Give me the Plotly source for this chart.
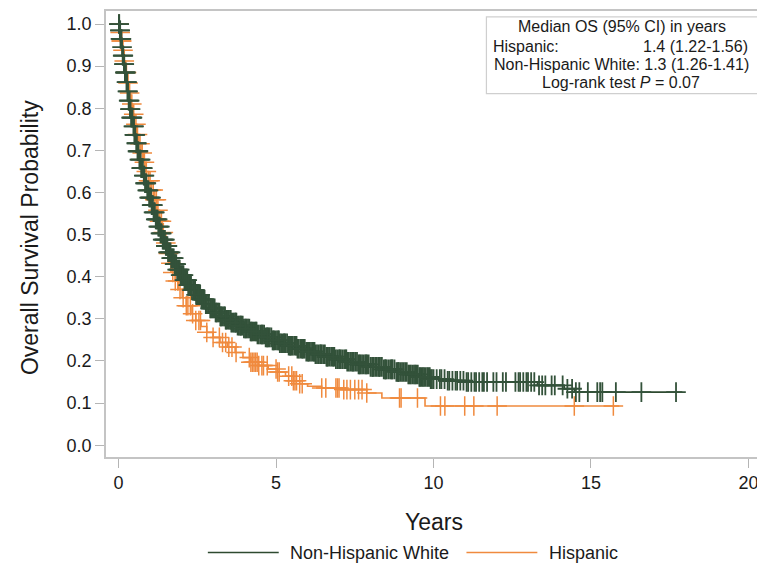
import numpy as np
import plotly.graph_objects as go

# ---------------- data ----------------
nhw_time = [0.00, 0.03, 0.06, 0.10, 0.13, 0.16, 0.20, 0.24, 0.28, 0.32, 0.36, 0.40, 0.45, 0.50,
            0.55, 0.60, 0.66, 0.72, 0.78, 0.84, 0.90, 0.97, 1.04, 1.11, 1.18, 1.25, 1.32, 1.40,
            1.48, 1.57, 1.66, 1.76, 1.86, 1.97, 2.08, 2.20, 2.33, 2.46, 2.60, 2.75, 2.90, 3.06,
            3.23, 3.40, 3.58, 3.77, 3.97, 4.18, 4.40, 4.63, 4.87, 5.12, 5.38, 5.66, 5.95, 6.25,
            6.56, 6.90, 7.25, 7.62, 8.00, 8.40, 8.80, 9.20, 9.55, 9.90, 10.40, 11.00, 13.30,
            14.15, 14.47]
nhw_surv = [1.000, 0.985, 0.965, 0.945, 0.925, 0.905, 0.885, 0.862, 0.840, 0.818, 0.798, 0.778,
            0.757, 0.737, 0.717, 0.698, 0.678, 0.658, 0.640, 0.622, 0.605, 0.588, 0.570, 0.553,
            0.536, 0.519, 0.503, 0.488, 0.473, 0.458, 0.444, 0.430, 0.417, 0.404, 0.392, 0.380,
            0.368, 0.357, 0.346, 0.335, 0.325, 0.315, 0.306, 0.298, 0.291, 0.284, 0.277, 0.270,
            0.263, 0.256, 0.249, 0.242, 0.236, 0.229, 0.222, 0.216, 0.210, 0.204, 0.198, 0.192,
            0.186, 0.180, 0.174, 0.168, 0.162, 0.157, 0.153, 0.150, 0.142, 0.134, 0.126]
nhw_end = 17.9

his_time = [0.00, 0.04, 0.08, 0.12, 0.17, 0.22, 0.27, 0.32, 0.38, 0.44, 0.50, 0.57, 0.64, 0.71,
            0.79, 0.87, 0.95, 1.03, 1.12, 1.21, 1.30, 1.38, 1.46, 1.54, 1.62, 1.70, 1.80, 1.90,
            2.02, 2.15, 2.30, 2.45, 2.62, 2.80, 3.00, 3.22, 3.45, 3.70, 3.95, 4.20, 4.45, 4.75,
            5.05, 5.30, 5.55, 5.75, 6.00, 6.45, 7.05, 7.88, 8.36, 9.73]
his_surv = [1.000, 0.980, 0.960, 0.938, 0.912, 0.885, 0.860, 0.836, 0.810, 0.786, 0.762, 0.738,
            0.716, 0.694, 0.672, 0.650, 0.628, 0.606, 0.583, 0.558, 0.532, 0.505, 0.480, 0.455,
            0.432, 0.410, 0.390, 0.370, 0.350, 0.331, 0.312, 0.296, 0.282, 0.268, 0.256, 0.244,
            0.233, 0.220, 0.208, 0.197, 0.189, 0.181, 0.174, 0.164, 0.153, 0.146, 0.140, 0.136,
            0.132, 0.124, 0.112, 0.093]
his_end = 15.9

nhw_censor = [0.02, 0.04, 0.06, 0.08, 0.11, 0.13, 0.15, 0.18, 0.20, 0.23, 0.25, 0.28, 0.30, 0.33,
              0.36, 0.38, 0.41, 0.44, 0.47, 0.50, 0.53, 0.56, 0.60, 0.63, 0.66, 0.70, 0.73, 0.77,
              0.80, 0.84, 0.88, 0.91, 0.95, 0.99, 1.03, 1.07, 1.11, 1.15, 1.20, 1.24, 1.28, 1.33,
              1.37, 1.42, 1.47, 1.52, 1.57, 1.62, 1.67, 1.72, 1.78, 1.83, 1.89, 1.94, 2.00, 2.06,
              2.12, 2.18, 2.24, 2.30, 2.37, 2.43, 2.50, 2.56, 2.63, 2.70, 2.77, 2.84, 2.91, 2.98,
              3.05, 3.12, 3.20, 3.27, 3.35, 3.42, 3.50, 3.58, 3.66, 3.74, 3.82, 3.90, 3.98, 4.07,
              4.15, 4.24, 4.32, 4.41, 4.50, 4.58, 4.67, 4.76, 4.85, 4.94, 5.03, 5.12, 5.21, 5.30,
              5.40, 5.49, 5.58, 5.68, 5.77, 5.87, 5.96, 6.06, 6.16, 6.25, 6.35, 6.45, 6.55, 6.65,
              6.75, 6.85, 6.95, 7.05, 7.16, 7.26, 7.36, 7.47, 7.57, 7.68, 7.78, 7.89, 8.00, 8.10,
              8.20, 8.30, 8.42, 8.50, 8.62, 8.70, 8.82, 8.90, 9.00, 9.10, 9.20, 9.28, 9.38, 9.45,
              9.55, 9.62, 9.70, 9.80, 9.88, 9.95, 10.00, 10.10, 10.20, 10.25, 10.35, 10.45, 10.50,
              10.60, 10.70, 10.75, 10.85, 10.95, 11.05, 11.10, 11.20, 11.30, 11.35, 11.45, 11.55,
              11.60, 11.70, 11.90, 12.00, 12.20, 12.30, 12.60, 12.70, 12.75, 12.85, 12.95, 13.00,
              13.10, 13.20, 13.35, 13.45, 13.55, 13.75, 13.85, 14.10, 14.25, 14.40, 14.52, 14.63,
              14.90, 15.20, 15.29, 15.36, 15.79, 16.60, 17.70,
              0.01, 0.05, 0.09, 0.14, 0.17, 0.22, 0.27, 0.32, 0.35, 0.40, 0.43, 0.49, 0.52, 0.58,
              0.62, 0.68, 0.72, 0.75, 0.82, 0.86, 0.93, 0.97, 1.01, 1.05, 1.09, 1.13, 1.18, 1.22,
              1.26, 1.31, 1.35, 1.40, 1.45, 1.50, 1.55, 1.60, 1.65, 1.70, 1.75, 1.80, 1.86, 1.92,
              1.97, 2.03, 2.09, 2.15, 2.21, 2.27, 2.33, 2.40, 2.46, 2.53, 2.59, 2.66, 2.73, 2.80,
              2.87, 2.94, 3.01, 3.08, 3.16, 3.23, 3.31, 3.38, 3.46, 3.54, 3.62, 3.70, 3.78, 3.86,
              3.94, 4.02, 4.11, 4.19, 4.28, 4.36, 4.45, 4.54, 4.62, 4.71, 4.80, 4.89, 4.98, 5.07,
              5.16, 5.25, 5.35, 5.44, 5.53, 5.63, 5.72, 5.82, 5.91, 6.01, 6.11, 6.20, 6.30, 6.40,
              6.50, 6.60, 6.70, 6.80, 6.90, 7.00, 7.10, 7.21, 7.31, 7.41, 7.52, 7.62, 7.73, 7.83,
              7.94, 8.05, 8.15, 8.25, 8.36, 8.46, 8.56, 8.66, 8.76, 8.86, 8.95, 9.05, 9.15, 9.24,
              9.33, 9.42, 9.50, 9.58, 9.66, 9.75, 9.84, 9.91,
              3.10, 3.25, 3.40, 3.56, 3.72, 3.88, 4.04, 4.21, 4.38, 4.55, 4.73, 4.91, 5.09, 5.27,
              5.46, 5.65, 5.84, 6.03, 6.22, 6.42, 6.62, 6.82, 7.02, 7.23, 7.44, 7.65, 7.86, 8.07,
              8.28, 8.48, 8.68, 8.88]
his_censor = [0.02, 0.05, 0.08, 0.10, 0.14, 0.18, 0.22, 0.25, 0.30, 0.35, 0.42, 0.48, 0.55, 0.60,
              0.68, 0.75, 0.82, 0.88, 0.95, 1.00, 1.05, 1.10, 1.15, 1.20, 1.25, 1.30, 1.36, 1.42,
              1.50, 1.58, 1.66, 1.72, 1.80, 1.88, 1.95, 2.05, 2.15, 2.20, 2.28, 2.35, 2.45, 2.55,
              2.60, 2.80, 3.00, 3.20, 3.30, 3.40, 3.50, 3.60, 3.73, 4.15, 4.20, 4.25, 4.30, 4.35,
              4.40, 4.45, 4.55, 4.60, 4.72, 5.00, 5.05, 5.10, 5.40, 5.50, 5.55, 5.60, 5.65, 5.75,
              5.83, 6.45, 6.58, 6.90, 6.95, 7.00, 7.15, 7.25, 7.36, 7.50, 7.62, 7.73, 7.88, 8.92,
              8.97, 9.49, 10.22, 10.36, 10.99, 11.28, 12.02, 14.47, 15.71]

x_ticks = [0, 5, 10, 15, 20]
y_ticks = [0.0, 0.1, 0.2, 0.3, 0.4, 0.5, 0.6, 0.7, 0.8, 0.9, 1.0]

GREEN = "#2e4a30"
GREEN_MARK = "#33523a"
ORANGE = "#f08a3e"
FONT = "Liberation Sans, Arial, sans-serif"
TXT = "#1a1a1a"


def step_value(times, survs, t):
    idx = np.searchsorted(np.array(times), np.array(t), side="right") - 1
    return np.array(survs)[idx]


fig = go.Figure()

groups = [
    ("Hispanic", his_time, his_surv, his_end, his_censor, ORANGE, ORANGE, 1.5),
    ("Non-Hispanic White", nhw_time, nhw_surv, nhw_end, nhw_censor, GREEN, GREEN_MARK, 1.8),
]
for name, t, s, end, cens, col, mcol, mw in groups:
    fig.add_trace(go.Scatter(
        x=list(t) + [end], y=list(s) + [s[-1]], mode="lines", line=dict(color=col, width=1.6),
        line_shape="hv", name=name, showlegend=False, hoverinfo="skip"))
    fig.add_trace(go.Scatter(
        x=cens, y=step_value(t, s, cens), mode="markers",
        marker=dict(symbol="cross-thin", size=14, line=dict(color=mcol, width=mw)),
        showlegend=False, hoverinfo="skip"))

# page has an 8px body margin: work in reference-window pixels, shift into figure pixels
OFF = 8
W, H = 765 - OFF, 567 - OFF
L, R, T, B = 106 - OFF, 763 - OFF, 9 - OFF, 457 - OFF


def px(x):
    return (x - OFF - L) / (R - L)


def py(y):
    return (B - (y - OFF)) / (B - T)


fig.update_layout(
    width=W, height=H,
    margin=dict(l=L, r=W - R, t=T, b=H - B, pad=0),
    paper_bgcolor="white", plot_bgcolor="white",
    font=dict(family=FONT, color=TXT, size=18),
    showlegend=False,
)
axis_common = dict(ticks="outside", ticklen=9, tickcolor="#b5b5b5", tickwidth=1.3, showline=True,
                   mirror=True, linecolor="#c4c4c4", linewidth=1.5, showgrid=False, zeroline=False,
                   tickfont=dict(size=18, family=FONT, color=TXT))
fig.update_xaxes(range=[-0.40, 20.43], tickvals=x_ticks, **axis_common)
fig.update_yaxes(range=[-0.028, 1.031], tickvals=y_ticks, tickformat=".1f", **axis_common)

ann = []
ann.append(dict(text="Overall Survival Probability", x=px(30), y=py(237), xref="paper", yref="paper",
                textangle=-90, showarrow=False, font=dict(size=23, family=FONT, color=TXT),
                xanchor="center", yanchor="middle"))
ann.append(dict(text="Years", x=px(435), y=py(522), xref="paper", yref="paper", showarrow=False,
                font=dict(size=23, family=FONT, color=TXT), xanchor="center", yanchor="middle"))

# bottom legend
shapes = []
shapes.append(dict(type="line", xref="paper", yref="paper", x0=px(208), x1=px(279), y0=py(553), y1=py(553),
                   line=dict(color=GREEN, width=1.6)))
shapes.append(dict(type="line", xref="paper", yref="paper", x0=px(467), x1=px(538), y0=py(553), y1=py(553),
                   line=dict(color=ORANGE, width=1.6)))
ann.append(dict(text="Non-Hispanic White", x=px(288), y=py(553), xref="paper", yref="paper", showarrow=False,
                xanchor="left", yanchor="middle", font=dict(size=18, family=FONT, color=TXT)))
ann.append(dict(text="Hispanic", x=px(548), y=py(553), xref="paper", yref="paper", showarrow=False,
                xanchor="left", yanchor="middle", font=dict(size=18, family=FONT, color=TXT)))

# inset box
shapes.append(dict(type="rect", xref="paper", yref="paper", x0=px(487), x1=px(759), y0=py(92), y1=py(15),
                   line=dict(color="#cfcfcf", width=1.2), fillcolor="white"))
bf = dict(size=16, family=FONT, color=TXT)
ann.append(dict(text="Median OS (95% CI) in years", x=px(623), y=py(25), xref="paper", yref="paper",
                showarrow=False, xanchor="center", yanchor="middle", font=bf))
ann.append(dict(text="Hispanic:", x=px(492), y=py(44.5), xref="paper", yref="paper",
                showarrow=False, xanchor="left", yanchor="middle", font=bf))
ann.append(dict(text="1.4 (1.22-1.56)", x=px(751), y=py(44.5), xref="paper", yref="paper",
                showarrow=False, xanchor="right", yanchor="middle", font=bf))
ann.append(dict(text="Non-Hispanic White: 1.3 (1.26-1.41)", x=px(622), y=py(63), xref="paper", yref="paper",
                showarrow=False, xanchor="center", yanchor="middle", font=bf))
ann.append(dict(text="Log-rank test <i>P</i> = 0.07", x=px(622), y=py(80.5), xref="paper", yref="paper",
                showarrow=False, xanchor="center", yanchor="middle", font=bf))

fig.update_layout(annotations=ann, shapes=shapes)
fig.write_html("out.html")
